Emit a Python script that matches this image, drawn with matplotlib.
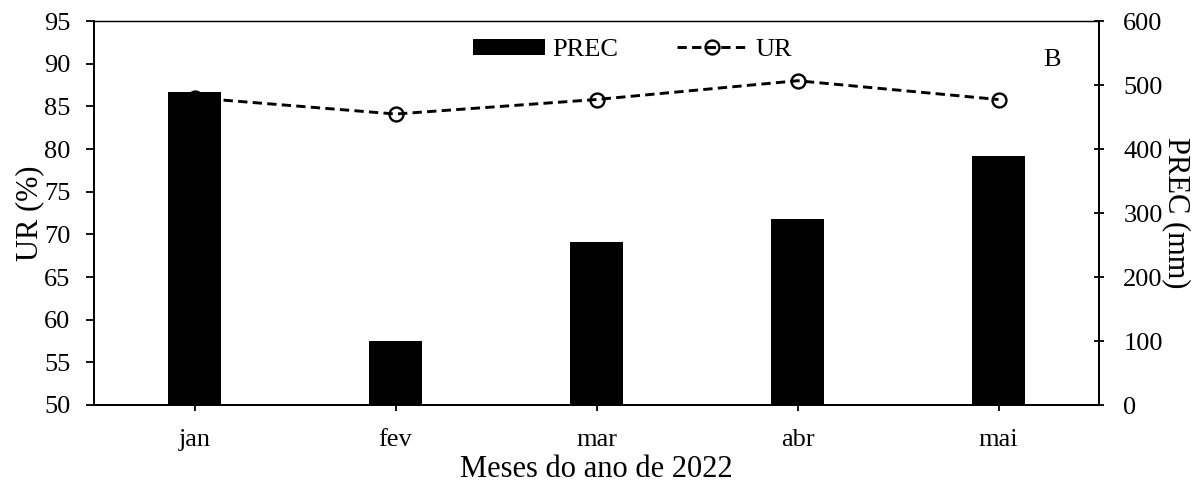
import numpy as np
import matplotlib
matplotlib.use('Agg')
import matplotlib.pyplot as plt

# --- dados ---
meses = ['jan', 'fev', 'mar', 'abr', 'mai']
prec = [489, 100, 254, 290, 389]        # PREC (mm)
ur = [86.0, 84.1, 85.8, 88.0, 85.8]     # UR (%)

plt.rcParams['font.family'] = ['Liberation Serif', 'DejaVu Serif']

fig = plt.figure(figsize=(11.97, 4.82), dpi=100)
ax = fig.add_axes([94 / 1197, 1 - 405 / 482, (1099 - 94) / 1197, (405 - 21) / 482])
ax2 = ax.twinx()

x = np.arange(len(meses))

# linha UR (eixo esquerdo)
linha, = ax.plot(x, ur, color='black', linestyle='--', dashes=(3.2, 1.8), linewidth=2.1,
                 marker='o', markersize=10, markerfacecolor='none',
                 markeredgecolor='black', markeredgewidth=1.7, label='UR')

# barras PREC (eixo direito, desenhadas por cima)
barras = ax2.bar(x, prec, width=0.26, color='black', label='PREC')

ax.set_xlim(-0.5, 4.5)
ax.set_ylim(50, 95)
ax.set_yticks(np.arange(50, 96, 5))
ax2.set_ylim(0, 600)
ax2.set_yticks(np.arange(0, 601, 100))

ax.set_xticks(x)
ax.set_xticklabels(meses)

# estilo dos eixos
for a in (ax, ax2):
    for s in a.spines.values():
        s.set_linewidth(1.3)
    a.spines['top'].set_linewidth(0.9)

ax.tick_params(axis='y', direction='out', length=6, width=1.3, labelsize=19, pad=11)
ax.tick_params(axis='x', direction='out', length=4, width=1.3, labelsize=19, pad=13)
ax2.tick_params(axis='y', direction='inout', length=7, width=1.3, labelsize=19, pad=14)

ax.set_ylabel('UR (%)', fontsize=22, labelpad=0)
ax2.set_ylabel('PREC (mm)', fontsize=22, rotation=270, labelpad=-1, va='bottom')
ax.set_xlabel('Meses do ano de 2022', fontsize=22, labelpad=3)

leg = ax2.legend([barras, linha], ['PREC', 'UR'], loc='center', ncol=2,
                 bbox_to_anchor=(633 / 1197, 1 - 50 / 482), bbox_transform=fig.transFigure,
                 frameon=False, fontsize=19, handlelength=2.7, handletextpad=0.3,
                 columnspacing=2.2, handleheight=0.6)

ax2.text(1052 / 1197, 1 - 60 / 482, 'B', transform=fig.transFigure, fontsize=19,
         ha='center', va='center')

fig.savefig('out.png', dpi=100)
